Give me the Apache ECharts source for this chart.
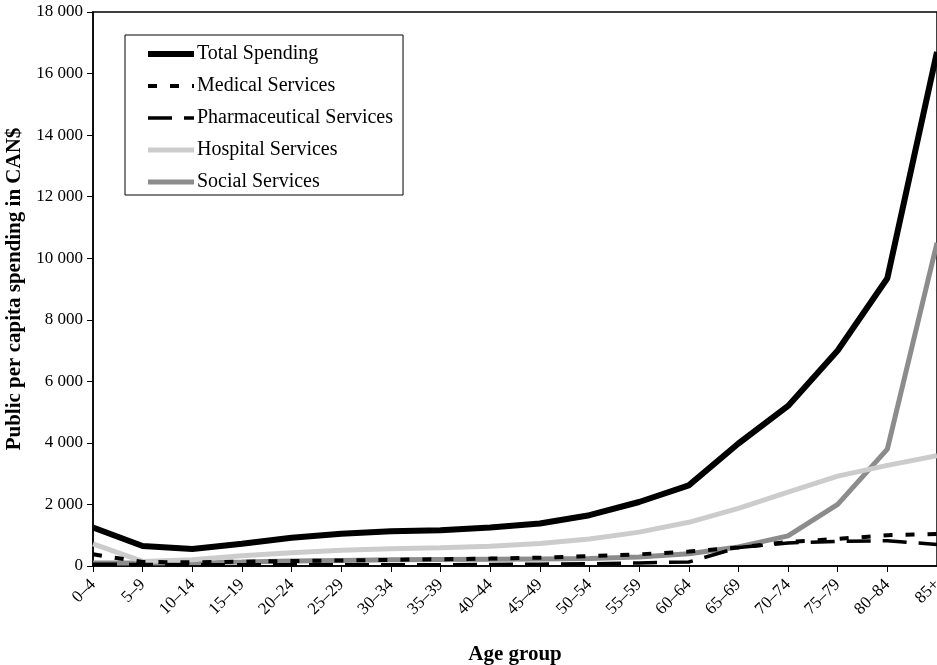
<!DOCTYPE html>
<html><head><meta charset="utf-8">
<script src="https://cdn.jsdelivr.net/npm/echarts@6/dist/echarts.min.js"></script>
<style>html,body{margin:0;padding:0;background:#fff}#c{width:937px;height:665px}</style>
</head><body><div id="c"></div>
<script>
const categories = ['0–4','5–9','10–14','15–19','20–24','25–29','30–34','35–39','40–44','45–49','50–54','55–59','60–64','65–69','70–74','75–79','80–84','85+'];
const totalSpending = [1250,650,550,720,920,1050,1130,1160,1250,1380,1650,2080,2620,3980,5200,7000,9350,16700];
const medicalServices = [380,130,120,140,160,180,200,220,240,270,320,380,470,600,780,880,1000,1040];
const pharmaServices = [60,50,40,40,40,40,40,40,50,60,70,100,130,600,750,800,820,700];
const hospitalServices = [720,150,200,330,430,510,560,590,640,730,880,1100,1420,1870,2400,2920,3270,3580];
const socialServices = [100,100,110,130,160,180,200,210,220,230,240,290,400,620,980,2000,3800,10500];
const yTicks = [0,2000,4000,6000,8000,10000,12000,14000,16000,18000];

const FONT = '"Liberation Serif", "Times New Roman", serif';
const chart = echarts.init(document.getElementById('c'), null, {renderer:'canvas'});
function ser(name, data, color, width, type) {
  return {name, type:'line', data, symbol:'none', smooth:false,
    lineStyle:{color, width, type: type || 'solid', cap:'butt'}, itemStyle:{color}};
}
chart.setOption({
  animation:false,
  textStyle:{fontFamily:FONT},
  grid:{left:93, right:0, top:12, bottom:99, show:true, borderColor:'#000', borderWidth:1.5, outerBoundsMode:'none', containLabel:false},
  legend:{
    orient:'vertical', left:125, top:35, padding:[9,10,3,20],
    borderColor:'#000', borderWidth:1, itemGap:12, itemWidth:46, itemHeight:14,
    itemStyle:{opacity:0},
    lineStyle:{width:'inherit'},
    textStyle:{fontFamily:FONT, fontSize:20, color:'#000', padding:[0,0,0,-2]},
    data:['Total Spending','Medical Services','Pharmaceutical Services','Hospital Services','Social Services']
  },
  xAxis:{type:'category', data:categories, boundaryGap:false,
    name:'Age group', nameLocation:'middle', nameGap:78,
    nameTextStyle:{fontFamily:FONT, fontSize:21, fontWeight:'bold', color:'#000'},
    axisLine:{lineStyle:{color:'#000', width:1.5}},
    axisTick:{show:true, length:6, alignWithLabel:true, lineStyle:{color:'#000'}},
    axisLabel:{rotate:45, fontFamily:FONT, fontSize:17, color:'#000', margin:16, interval:0}
  },
  yAxis:{type:'value', min:0, max:18000, interval:2000,
    name:'Public per capita spending in CAN$', nameLocation:'middle', nameGap:68,
    nameTextStyle:{fontFamily:FONT, fontSize:21, fontWeight:'bold', color:'#000'},
    axisLine:{show:true, lineStyle:{color:'#000', width:1.5}},
    axisTick:{show:true, length:6, lineStyle:{color:'#000'}},
    splitLine:{show:false},
    axisLabel:{fontFamily:FONT, fontSize:17, color:'#000', margin:10,
      formatter:v => yTicks.includes(v) ? String(v).replace(/\B(?=(\d{3})+(?!\d))/g,' ') : ''}
  },
  series:[
    ser('Social Services', socialServices, '#8c8c8c', 5),
    ser('Hospital Services', hospitalServices, '#cccccc', 5),
    ser('Pharmaceutical Services', pharmaServices, '#000', 3.5, [24,12]),
    ser('Medical Services', medicalServices, '#000', 4, [9,13]),
    ser('Total Spending', totalSpending, '#000', 6)
  ]
});
</script></body></html>
